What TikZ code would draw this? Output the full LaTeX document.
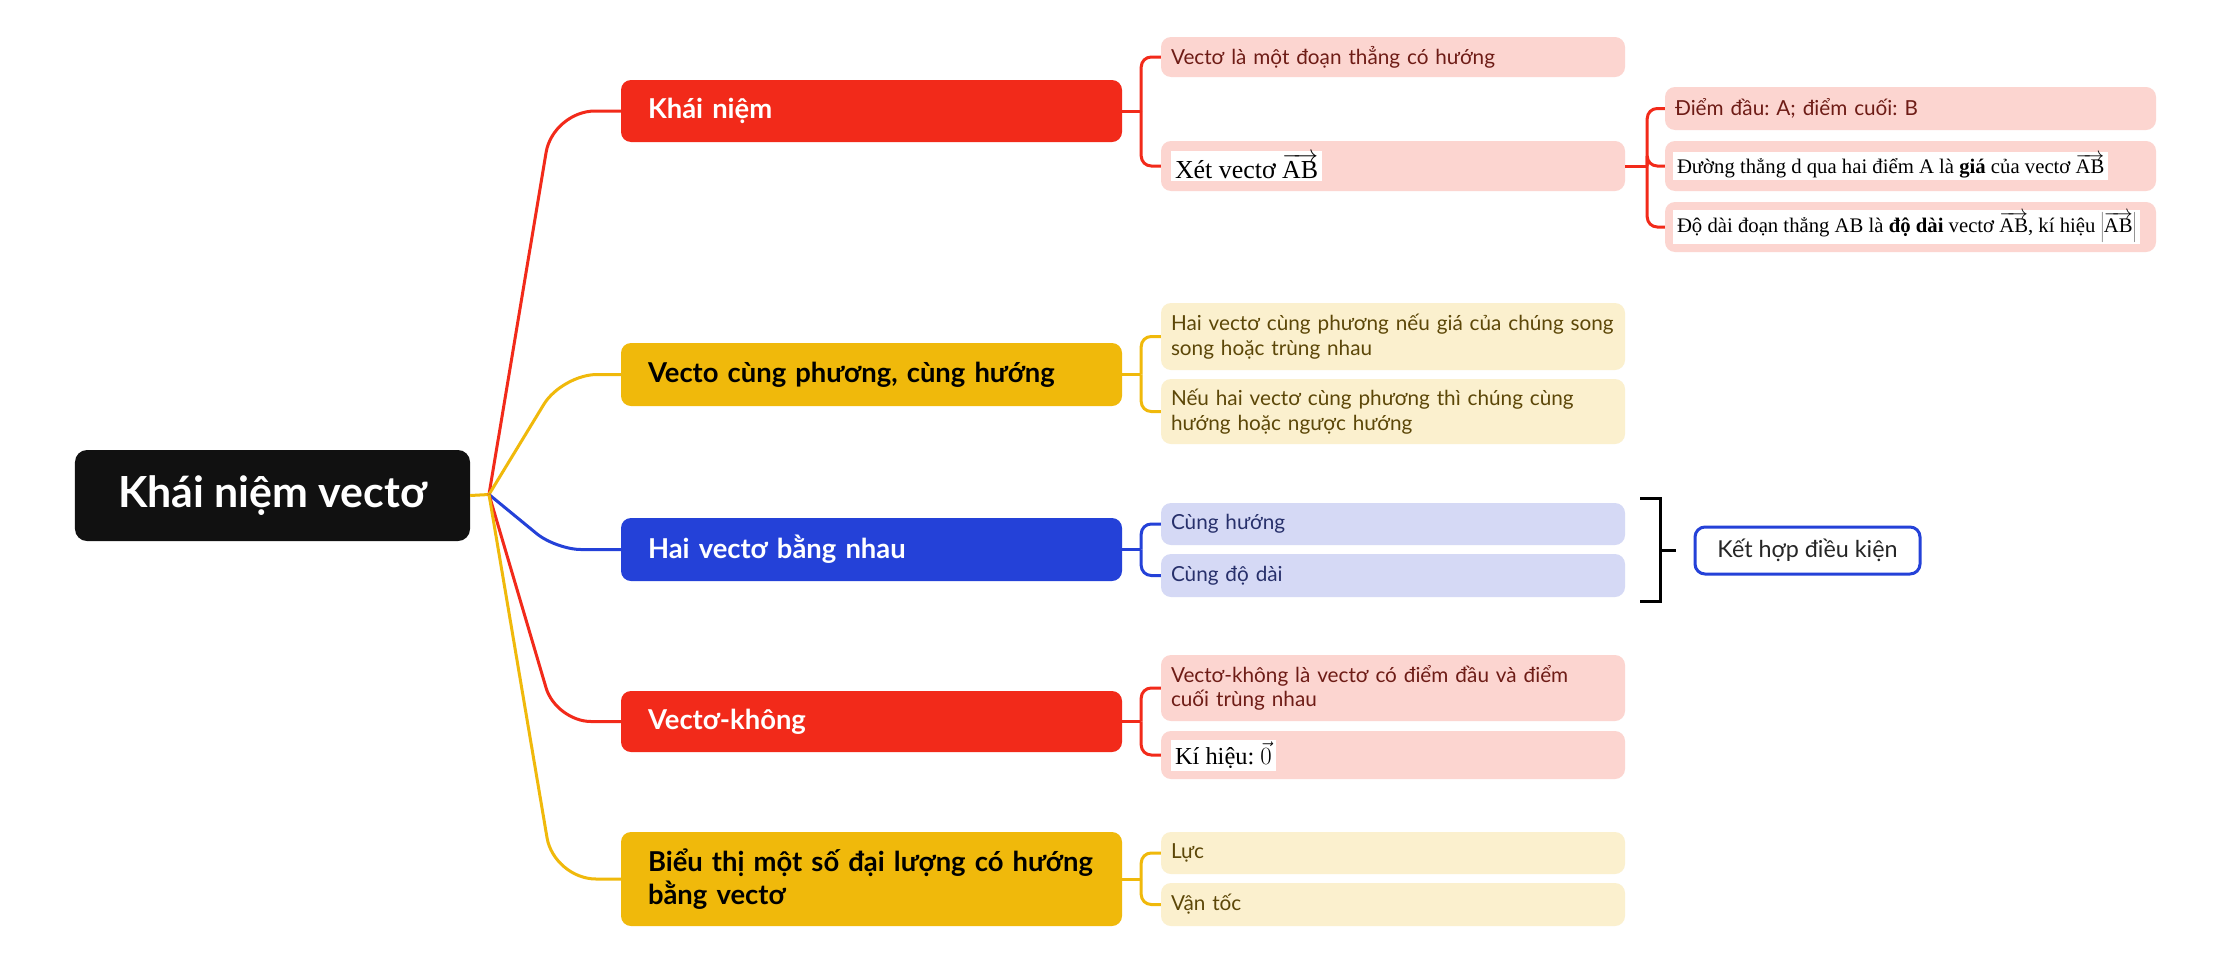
\documentclass[tikz,border=0pt]{standalone}
\usepackage{fontspec}
\setmainfont{Lato}
\newfontfamily\serifvn{Liberation Serif}
\usetikzlibrary{calc}
\frenchspacing
\definecolor{cred}{HTML}{F22A1A}
\definecolor{cyel}{HTML}{F0B90B}
\definecolor{cblu}{HTML}{2441D8}
\definecolor{croot}{HTML}{111111}
\definecolor{lred}{HTML}{FCD5D0}
\definecolor{lyel}{HTML}{FBF0CE}
\definecolor{lblu}{HTML}{D5D9F5}
\definecolor{tred}{HTML}{6E1C16}
\definecolor{tyel}{HTML}{5C4708}
\definecolor{tblu}{HTML}{27306B}
\tikzset{
  rootbox/.style={fill=croot, text=white, rounded corners=12bp, minimum width=395bp, minimum height=91bp, inner sep=0pt, font=\fontsize{43}{48}\selectfont\bfseries},
  lone/.style={rounded corners=10bp, minimum height=62bp, text width=447bp, inner xsep=27bp, inner ysep=0pt, align=left, font=\fontsize{27.5}{33}\selectfont\bfseries},
  ltwo/.style={rounded corners=10bp, text width=444bp, inner xsep=10bp, inner ysep=0pt, align=left, font=\fontsize{20.8}{24.5}\selectfont},
  lthree/.style={rounded corners=10bp, text width=471bp, inner xsep=10bp, inner ysep=0pt, align=left, font=\fontsize{20.8}{24.5}\selectfont},
  patch/.style={fill=white, inner xsep=4bp, inner ysep=2bp, text=black},
  rline/.style={draw=cred, line width=3bp},
  yline/.style={draw=cyel, line width=3bp},
  bline/.style={draw=cblu, line width=3bp},
  subc/.style={rounded corners=10bp},
}
\begin{document}
\begin{tikzpicture}[x=1bp,y=-1bp]
\useasboundingbox[fill=white] (0,0) rectangle (2233,967);
% root
\node[rootbox] (root) at (272.5,495.5) {Khái niệm vectơ};
\coordinate (J) at (489,494.5);
% level 1
\node[lone, fill=cred, text=white, minimum height=62bp] (k1) at (871.5,111) {Khái niệm};
\node[lone, fill=cyel, text=black, minimum height=63bp] (k2) at (871.5,374.5) {Vecto cùng phương, cùng hướng};
\node[lone, fill=cblu, text=white, minimum height=63bp] (k3) at (871.5,549.5) {Hai vectơ bằng nhau};
\node[lone, fill=cred, text=white, minimum height=61bp] (k4) at (871.5,721.5) {Vectơ-không};
\node[lone, fill=cyel, text=black, minimum height=94bp] (k5) at (871.5,879) {Biểu thị một số đại lượng có hướng\\bằng vectơ};
% level 2
\node[ltwo, fill=lred, text=tred, minimum height=40bp] (a1) at (1393,57) {Vectơ là một đoạn thẳng có hướng};
\node[ltwo, fill=lred, minimum height=50bp] (a2) at (1393,166) {};
\node[patch, anchor=west, font=\serifvn\fontsize{26}{29}\selectfont] (a2t) at ($(a2.west)+(10,0)$) {Xét vectơ $\overrightarrow{\mbox{AB}}$};
\node[ltwo, fill=lyel, text=tyel, minimum height=67bp] (b1) at (1393,336.5) {Hai vectơ cùng phương nếu giá của chúng song\\song hoặc trùng nhau};
\node[ltwo, fill=lyel, text=tyel, minimum height=65bp] (b2) at (1393,411.5) {Nếu hai vectơ cùng phương thì chúng cùng\\hướng hoặc ngược hướng};
\node[ltwo, fill=lblu, text=tblu, minimum height=42bp] (c1) at (1393,524) {Cùng hướng};
\node[ltwo, fill=lblu, text=tblu, minimum height=43bp] (c2) at (1393,575.5) {Cùng độ dài};
\node[ltwo, fill=lred, text=tred, minimum height=66bp] (d1) at (1393,688) {Vectơ-không là vectơ có điểm đầu và điểm\\cuối trùng nhau};
\node[ltwo, fill=lred, minimum height=48bp] (d2) at (1393,755) {};
\node[patch, anchor=west, font=\serifvn\fontsize{24.5}{28}\selectfont] (d2t) at ($(d2.west)+(10,0)$) {Kí hiệu: $\vec{0}$};
\node[ltwo, fill=lyel, text=tyel, minimum height=42bp] (e1) at (1393,853) {Lực};
\node[ltwo, fill=lyel, text=tyel, minimum height=43bp] (e2) at (1393,904.5) {Vận tốc};
% level 3
\node[lthree, fill=lred, text=tred, minimum height=43bp] (f1) at (1910.5,108.5) {Điểm đầu: A; điểm cuối: B};
\node[lthree, fill=lred, minimum height=50bp] (f2) at (1910.5,166) {};
\node[patch, anchor=west, font=\serifvn\fontsize{20.8}{23}\selectfont] (f2t) at ($(f2.west)+(8,0)$) {Đường thẳng d qua hai điểm A là \textbf{giá} của vectơ $\overrightarrow{\mbox{AB}}$};
\node[lthree, fill=lred, minimum height=50bp] (f3) at (1910.5,227) {};
\node[patch, anchor=west, font=\serifvn\fontsize{20.8}{23}\selectfont] (f3t) at ($(f3.west)+(8,0)$) {Độ dài đoạn thẳng AB là \textbf{độ dài} vectơ $\overrightarrow{\mbox{AB}}$, kí hiệu $\left|\overrightarrow{\mbox{AB}}\right|$};
% side note
\node[draw=cblu, line width=3bp, fill=white, rounded corners=10bp, minimum width=225bp, minimum height=47bp, inner sep=0pt, text=black!85, font=\fontsize{23.4}{26}\selectfont] (kh) at (1807.5,550.5) {Kết hợp điều kiện};
% root connectors
\draw[yline] (root.east) -- (J);
\draw[rline, rounded corners=42bp] (J) -- (553,111) -- (k1.west);
\draw[yline, rounded corners=35bp] (J) -- (562,374.5) -- (k2.west);
\draw[bline, rounded corners=25bp] (J) -- (556,549.5) -- (k3.west);
\draw[rline, rounded corners=35bp] (J) -- (556,721.5) -- (k4.west);
\draw[yline, rounded corners=42bp] (J) -- (554,879) -- (k5.west);
% level1 -> level2
\coordinate (k1j) at ($(k1.east)+(19,0)$);
\coordinate (k2j) at ($(k2.east)+(19,0)$);
\coordinate (k3j) at ($(k3.east)+(19,0)$);
\coordinate (k4j) at ($(k4.east)+(19,0)$);
\coordinate (k5j) at ($(k5.east)+(19,0)$);
\coordinate (a2j) at ($(a2.east)+(22,0)$);
\draw[rline] (k1.east) -- (k1j);
\draw[rline, subc] (k1j) |- (a1.west);
\draw[rline, subc] (k1j) |- (a2.west);
\draw[yline] (k2.east) -- (k2j);
\draw[yline, subc] (k2j) |- (b1.west);
\draw[yline, subc] (k2j) |- (b2.west);
\draw[bline] (k3.east) -- (k3j);
\draw[bline, subc] (k3j) |- (c1.west);
\draw[bline, subc] (k3j) |- (c2.west);
\draw[rline] (k4.east) -- (k4j);
\draw[rline, subc] (k4j) |- (d1.west);
\draw[rline, subc] (k4j) |- (d2.west);
\draw[yline] (k5.east) -- (k5j);
\draw[yline, subc] (k5j) |- (e1.west);
\draw[yline, subc] (k5j) |- (e2.west);
% level2 -> level3
\draw[rline] (a2.east) -- (a2j);
\draw[rline, subc] (a2j) |- (f1.west);
\draw[rline, subc] (a2j) |- (f2.west);
\draw[rline, subc] (a2j) |- (f3.west);
% bracket
\coordinate (brt) at (1660,498);
\coordinate (brb) at (1660,601);
\coordinate (brm) at (1660,550.5);
\draw[line width=3bp, black] ($(brt)+(-20,0)$) -- (brt) -- (brb) -- ($(brb)+(-20,0)$);
\draw[line width=3bp, black] (brm) -- ($(brm)+(16,0)$);
\end{tikzpicture}
\end{document}
